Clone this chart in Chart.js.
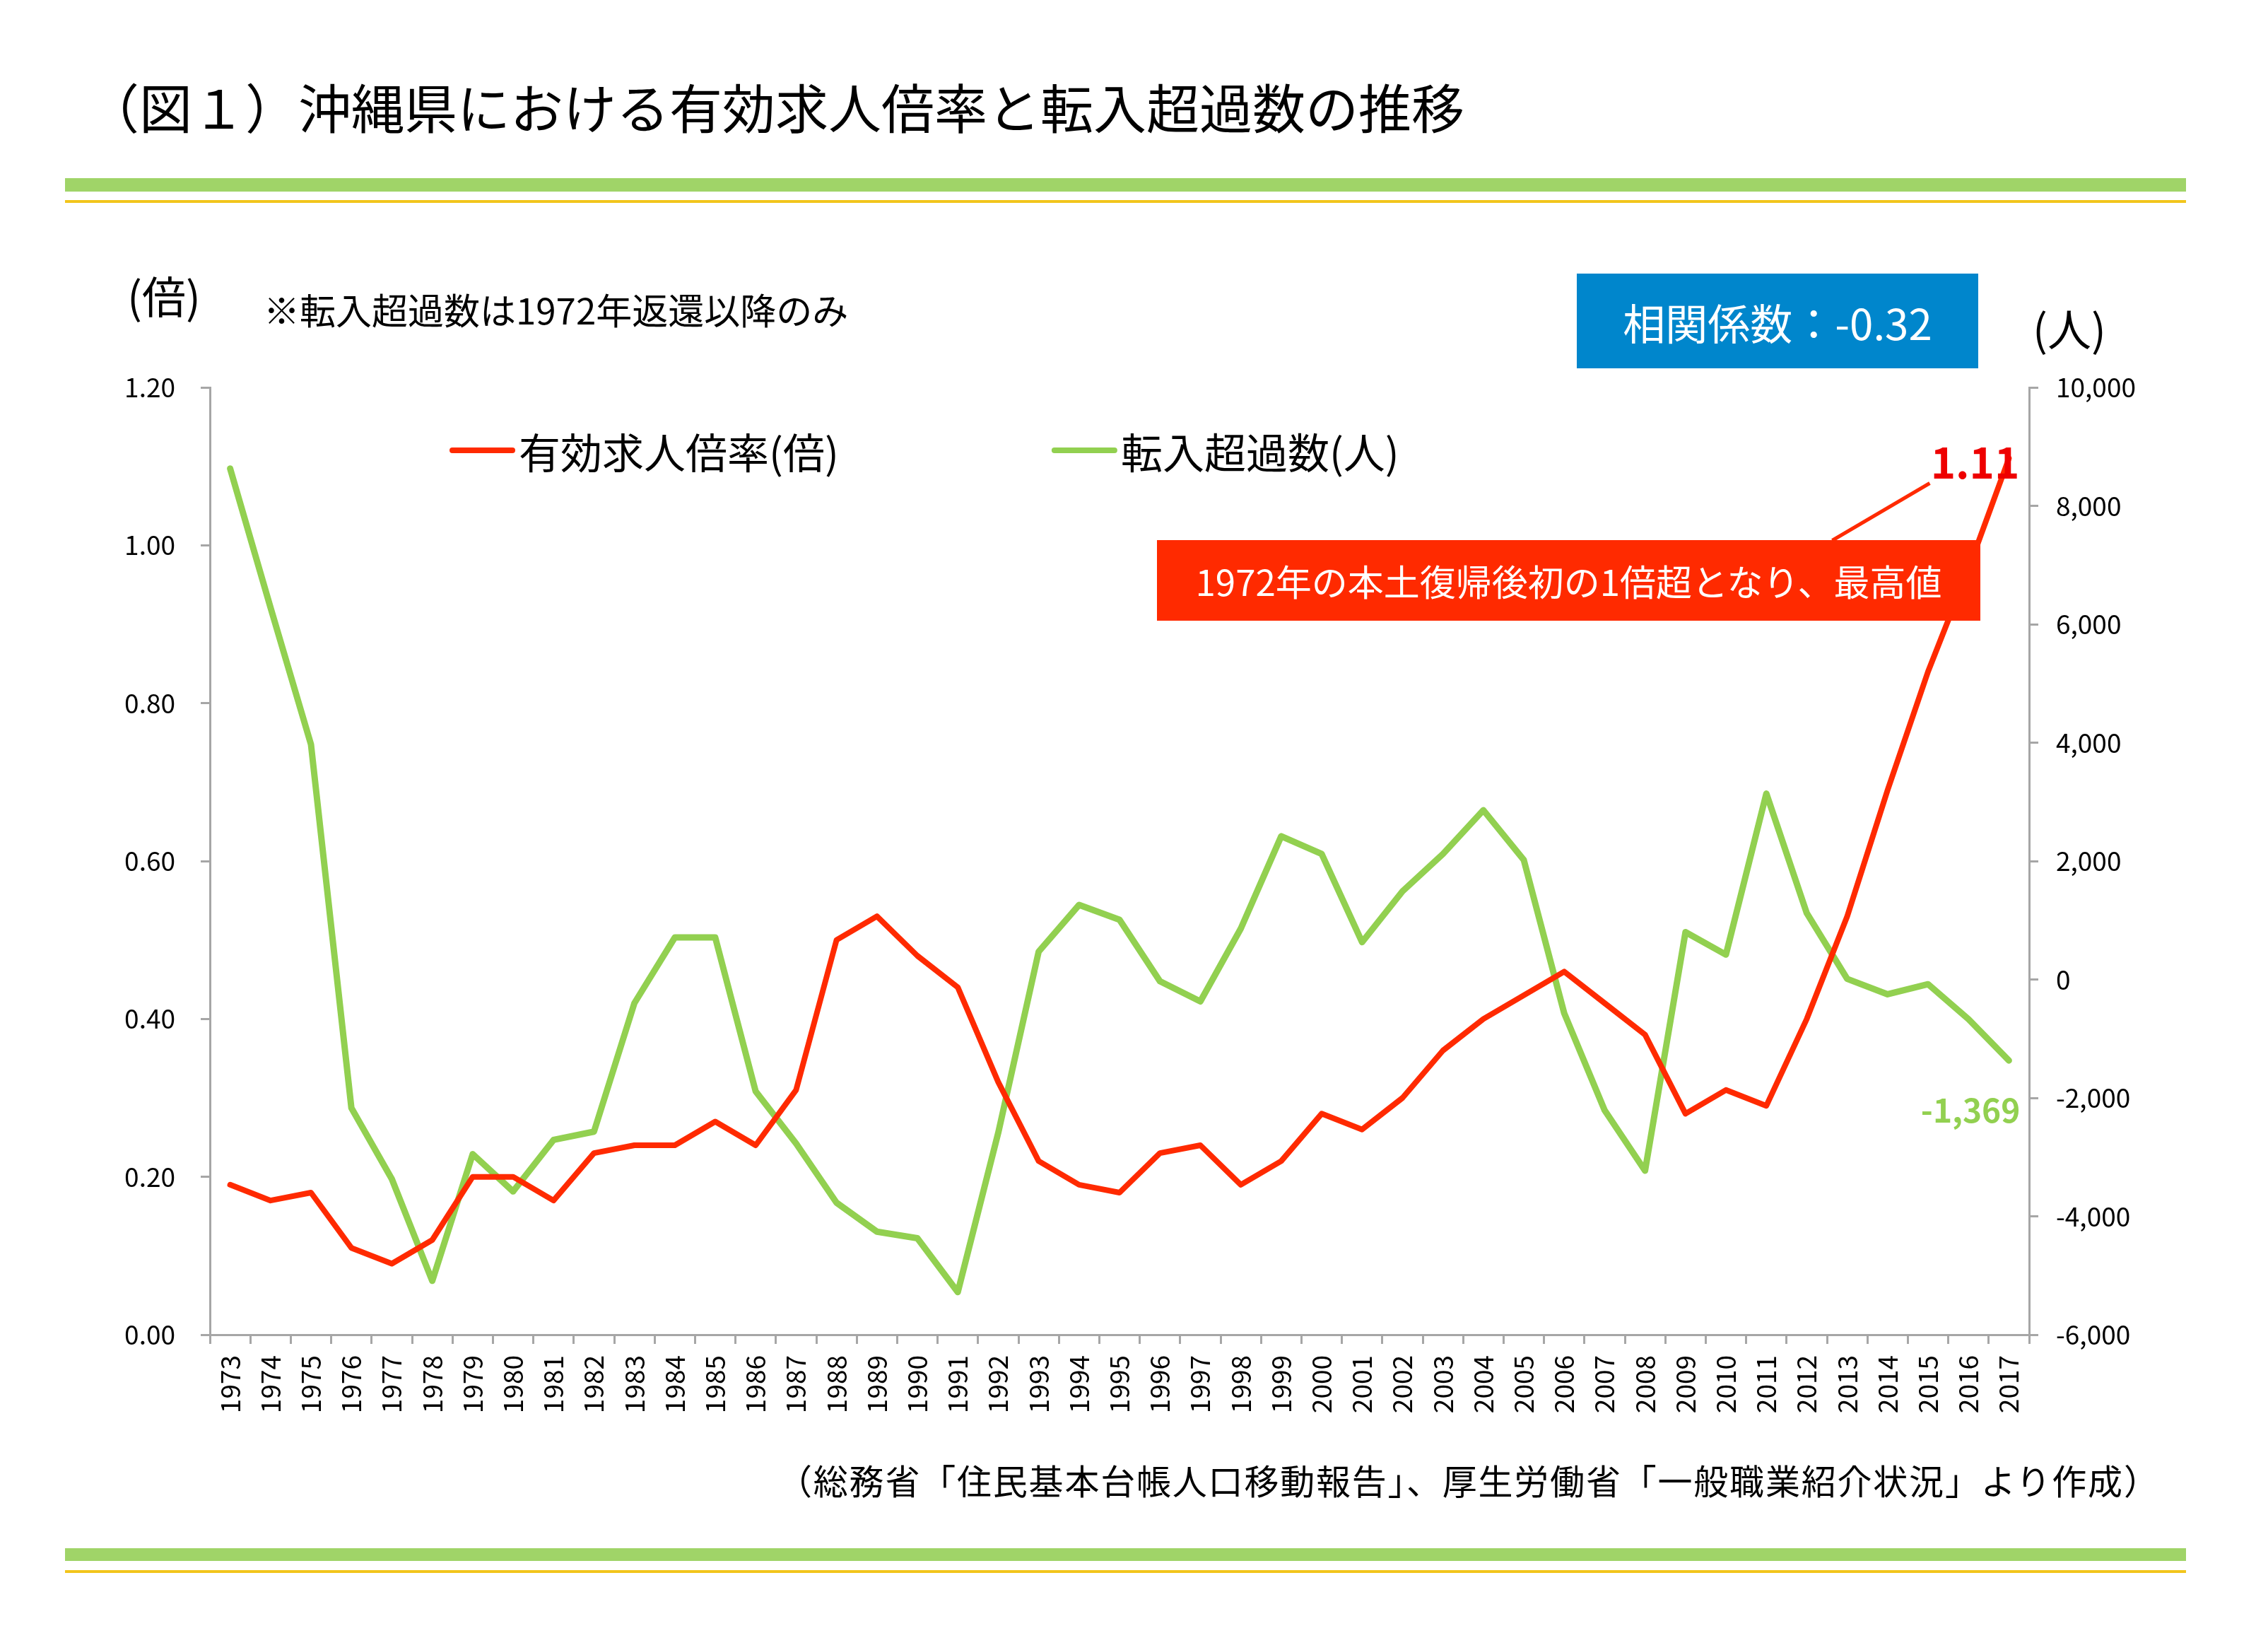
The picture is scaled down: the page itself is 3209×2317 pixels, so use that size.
<!DOCTYPE html>
<html lang="ja">
<head>
<meta charset="utf-8">
<title>沖縄県における有効求人倍率と転入超過数の推移</title>
<script src="https://cdn.jsdelivr.net/npm/chart.js@4.4.1/dist/chart.umd.min.js"></script>
<style>
  html, body { margin: 0; padding: 0; background: #fff; }
  body { width: 3209px; height: 2317px; position: relative; overflow: hidden;
         font-family: "Noto Sans CJK JP", "Noto Sans", sans-serif; color: #000; }
  .abs { position: absolute; white-space: nowrap; line-height: 1; }
  #chart { position: absolute; left: 0; top: 0; z-index: 1; }
  .bar { position: absolute; }
  #corr { position: absolute; left: 2231px; top: 387px; width: 568px; height: 134px;
          background: #0086cc; color: #fff; font-size: 60px; display: flex;
          align-items: center; justify-content: center; z-index: 2; }
  #note { position: absolute; left: 1637px; top: 764px; width: 1165px; height: 114px;
          background: #ff2a00; color: #fff; font-size: 51px; display: flex;
          align-items: center; justify-content: center; z-index: 2; }
</style>
</head>
<body>
<div class="abs" style="left:122px; top:112px; font-size:75px;">（図１）沖縄県における有効求人倍率と転入超過数の推移</div>
<div class="bar" style="left:92px; top:252px; width:3001px; height:19px; background:#a0d468;"></div>
<div class="bar" style="left:92px; top:283px; width:3001px; height:4px; background:#f2c51c;"></div>

<div class="abs" style="left:180px; top:386px; font-size:62px;">(倍)</div>
<div class="abs" style="left:373px; top:412px; font-size:51px;">※転入超過数は1972年返還以降のみ</div>
<div id="corr">相関係数：-0.32</div>
<div class="abs" style="left:2876px; top:432px; font-size:62px;">(人)</div>

<div id="note">1972年の本土復帰後初の1倍超となり、最高値</div>

<div class="abs" style="left:1100px; top:2068px; font-size:49px; letter-spacing:1.8px;">（総務省「住民基本台帳人口移動報告」、厚生労働省「一般職業紹介状況」より作成）</div>
<div class="bar" style="left:92px; top:2190px; width:3001px; height:18px; background:#a0d468;"></div>
<div class="bar" style="left:92px; top:2221px; width:3001px; height:4px; background:#f2c51c;"></div>

<canvas id="chart" width="3209" height="2317" style="width:3209px;height:2317px;"></canvas>

<script>
// years on the x axis
const years = [];
for (let y = 1973; y <= 2017; y++) years.push(String(y));

// 有効求人倍率 (倍), left axis
const jobRatio = [
  0.19, 0.17, 0.18, 0.11, 0.09, 0.12, 0.20, 0.20, 0.17, 0.23,
  0.24, 0.24, 0.27, 0.24, 0.31, 0.50, 0.53, 0.48, 0.44, 0.32,
  0.22, 0.19, 0.18, 0.23, 0.24, 0.19, 0.22, 0.28, 0.26, 0.30,
  0.36, 0.40, 0.43, 0.46, 0.42, 0.38, 0.28, 0.31, 0.29, 0.40,
  0.53, 0.69, 0.84, 0.97, 1.11
];

// 転入超過数 (人), right axis
const netMigration = [
  8630, 6280, 3970, -2170, -3370, -5090, -2950, -3580, -2710, -2570,
  -400, 710, 710, -1890, -2770, -3770, -4260, -4370, -5280, -2590,
  470, 1260, 1010, -30, -370, 860, 2420, 2120, 630, 1490,
  2120, 2860, 2020, -570, -2210, -3230, 800, 420, 3140, 1120,
  10, -250, -80, -670, -1369
];

const seriesNames = ['有効求人倍率(倍)', '転入超過数(人)'];
const RED = '#ff2a00';
const GREEN = '#92d050';
const AXIS = '#a6a6a6';
const FONT = '"Noto Sans CJK JP", "Noto Sans", sans-serif';

// legend inside the plot + value labels at the last points
const overlay = {
  id: 'overlay',
  afterDatasetsDraw(chart) {
    const ctx = chart.ctx;
    ctx.save();

    // legend
    let x = 640;
    const ly = 637;
    ctx.font = '59px ' + FONT;
    ctx.textBaseline = 'middle';
    ctx.textAlign = 'left';
    chart.data.datasets.forEach(ds => {
      ctx.strokeStyle = ds.borderColor;
      ctx.lineWidth = 8;
      ctx.lineCap = 'round';
      ctx.beginPath();
      ctx.moveTo(x, ly);
      ctx.lineTo(x + 85, ly);
      ctx.stroke();
      ctx.fillStyle = '#000';
      ctx.fillText(ds.label, x + 94, ly + 4);
      x += 94 + ctx.measureText(ds.label).width + 305;
    });

    // last point labels
    const rMeta = chart.getDatasetMeta(0);
    const gMeta = chart.getDatasetMeta(1);
    const rp = rMeta.data[rMeta.data.length - 1];
    const gp = gMeta.data[gMeta.data.length - 1];

    // leader line from the note box to 1.11
    ctx.strokeStyle = RED;
    ctx.lineWidth = 5;
    ctx.lineCap = 'butt';
    ctx.beginPath();
    ctx.moveTo(rp.x - 250, rp.y + 116);
    ctx.lineTo(rp.x - 112, rp.y + 35);
    ctx.stroke();

    ctx.textAlign = 'right';
    ctx.font = 'bold 60px ' + FONT;
    ctx.fillStyle = '#ee0000';
    ctx.fillText(jobRatio[jobRatio.length - 1].toFixed(2), rp.x + 15, rp.y + 6);

    ctx.font = 'bold 46px ' + FONT;
    ctx.fillStyle = GREEN;
    ctx.fillText(netMigration[netMigration.length - 1].toLocaleString('en-US'), gp.x + 16, gp.y + 70);

    ctx.restore();
  }
};

const ctx = document.getElementById('chart').getContext('2d');
new Chart(ctx, {
  type: 'line',
  data: {
    labels: years,
    datasets: [
      {
        label: seriesNames[0],
        data: jobRatio,
        borderColor: RED,
        backgroundColor: RED,
        borderWidth: 8,
        pointRadius: 0,
        tension: 0,
        borderJoinStyle: 'round',
        borderCapStyle: 'round',
        yAxisID: 'y'
      },
      {
        label: seriesNames[1],
        data: netMigration,
        borderColor: GREEN,
        backgroundColor: GREEN,
        borderWidth: 9,
        pointRadius: 0,
        tension: 0,
        borderJoinStyle: 'round',
        borderCapStyle: 'round',
        yAxisID: 'y1'
      }
    ]
  },
  options: {
    responsive: false,
    animation: false,
    devicePixelRatio: 1,
    layout: { padding: { left: 100, right: 100, top: 548, bottom: 300 } },
    plugins: {
      legend: { display: false },
      tooltip: { enabled: false }
    },
    scales: {
      x: {
        type: 'category',
        offset: true,
        grid: { offset: true, drawOnChartArea: false, drawTicks: true, tickLength: 13, color: AXIS, lineWidth: 3 },
        border: { color: AXIS, width: 3 },
        ticks: {
          autoSkip: false, maxRotation: 90, minRotation: 90, padding: 16,
          color: '#000', font: { family: FONT, size: 37 }
        },
        afterFit: s => { s.height = 129; }
      },
      y: {
        position: 'left',
        min: 0, max: 1.2,
        grid: { drawOnChartArea: false, drawTicks: true, tickLength: 13, color: AXIS, lineWidth: 3 },
        border: { color: AXIS, width: 3 },
        ticks: {
          stepSize: 0.2, padding: 36, color: '#000',
          font: { family: FONT, size: 37 },
          callback: v => Number(v).toFixed(2)
        },
        afterFit: s => { s.width = 197; }
      },
      y1: {
        position: 'right',
        min: -6000, max: 10000,
        grid: { drawOnChartArea: false, drawTicks: true, tickLength: 13, color: AXIS, lineWidth: 3 },
        border: { color: AXIS, width: 3 },
        ticks: {
          stepSize: 2000, padding: 25, color: '#000',
          font: { family: FONT, size: 37 },
          callback: v => Number(v).toLocaleString('en-US')
        },
        afterFit: s => { s.width = 238; }
      }
    }
  },
  plugins: [overlay]
});
</script>
</body>
</html>
